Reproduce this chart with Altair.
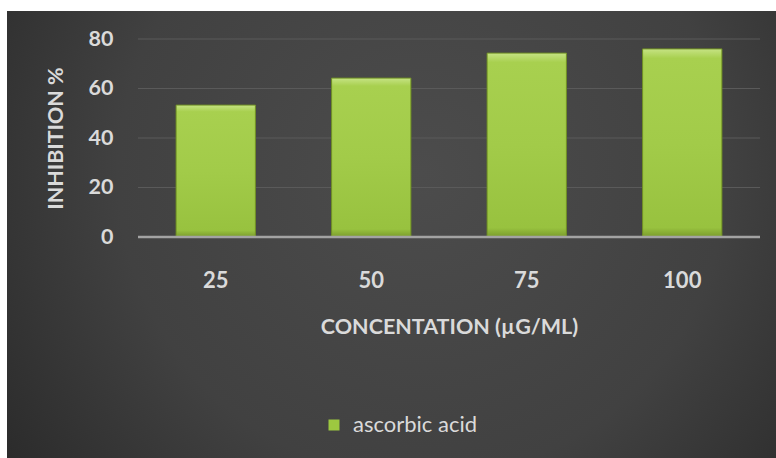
import altair as alt
import pandas as pd

categories = ["25", "50", "75", "100"]
inhibition = [53.3, 64.2, 74.3, 76.0]
series_name = "ascorbic acid"
y_ticks = [0, 20, 40, 60, 80]

df = pd.DataFrame({"conc": categories, "value": inhibition, "series": [series_name] * len(categories)})
grid_df = pd.DataFrame({"tick": y_ticks[1:]})
zero_df = pd.DataFrame({"tick": [0]})
bg_df = pd.DataFrame({"d": [0]})

W, H = 622, 198
FONT = "Lato"
TXT = "#dadada"

bg = alt.Chart(bg_df).mark_rect(
    fill={
        "gradient": "radial",
        "x1": 0.54, "y1": 0.42, "r1": 0,
        "x2": 0.54, "y2": 0.42, "r2": 0.72,
        "stops": [
            {"offset": 0, "color": "#4c4c4c"},
            {"offset": 0.55, "color": "#414141"},
            {"offset": 1, "color": "#262626"},
        ],
    }
).encode(
    x=alt.value(-131), x2=alt.value(638), y=alt.value(-28), y2=alt.value(419)
)

yscale = alt.Scale(domain=[0, 80], nice=False)
xscale = alt.Scale(paddingInner=0.49, paddingOuter=0.245)

grid = alt.Chart(grid_df).mark_rule(color="#5a5a5a", strokeWidth=1).encode(
    y=alt.Y("tick:Q", scale=yscale),
    x=alt.value(0), x2=alt.value(W),
)

bars_legend = alt.Chart(df).mark_bar().encode(
    x=alt.X("conc:N", sort=categories, scale=xscale,
            axis=alt.Axis(title="CONCENTATION (µG/ML)", labelAngle=0, domain=False, ticks=False,
                          grid=False, labelPadding=33, labelFontSize=22, labelFontWeight="bold",
                          labelColor=TXT, labelFont=FONT, titleFont=FONT, titleFontSize=21.5,
                          titleFontWeight="bold", titleColor=TXT, titleY=90, titleBaseline="middle",
                          zindex=2)),
    y=alt.Y("value:Q", scale=yscale,
            axis=alt.Axis(title="INHIBITION %", values=y_ticks, domain=False, ticks=False, grid=False,
                          labelPadding=25, labelFontSize=21.5, labelFontWeight="bold", labelColor=TXT,
                          labelFont=FONT, labelBaseline="middle", titleFont=FONT, titleFontSize=21.5,
                          titleFontWeight="bold", titleColor=TXT, titleAngle=270, titleX=-82,
                          titleY=99, titleAlign="center", titleBaseline="middle", zindex=2)),
    color=alt.Color("series:N", scale=alt.Scale(range=["#9dc840"]),
                    legend=alt.Legend(title=None, orient="none", legendX=185, legendY=375,
                                      symbolType="square", symbolSize=121, symbolStrokeWidth=0,
                                      labelFont=FONT, labelFontSize=22, labelColor=TXT, labelOffset=8,
                                      zindex=2)),
)

bars = alt.Chart(df).mark_bar(
    fill={
        "gradient": "linear", "x1": 0, "y1": 0, "x2": 0, "y2": 1,
        "stops": [
            {"offset": 0, "color": "#c6e384"},
            {"offset": 0.05, "color": "#a8d04f"},
            {"offset": 0.5, "color": "#a2cb49"},
            {"offset": 0.95, "color": "#98c23f"},
            {"offset": 1, "color": "#7a9b2c"},
        ],
    },
    stroke="#6e8d24", strokeWidth=1,
).encode(
    x=alt.X("conc:N", sort=categories, scale=xscale),
    y=alt.Y("value:Q", scale=yscale),
)

zero = alt.Chart(zero_df).mark_rule(color="#a3a3a3", strokeWidth=2.5).encode(
    y=alt.Y("tick:Q", scale=yscale),
    x=alt.value(0), x2=alt.value(W),
)

chart = alt.layer(bg, grid, bars_legend, bars, zero).properties(
    width=W, height=H,
    autosize=alt.AutoSizeParams(type="none"),
    padding={"left": 138, "top": 39, "right": 16, "bottom": 221},
    background="white",
).configure_view(stroke=None)

chart.save("out.html", embed_options={"renderer": "svg", "actions": False})
